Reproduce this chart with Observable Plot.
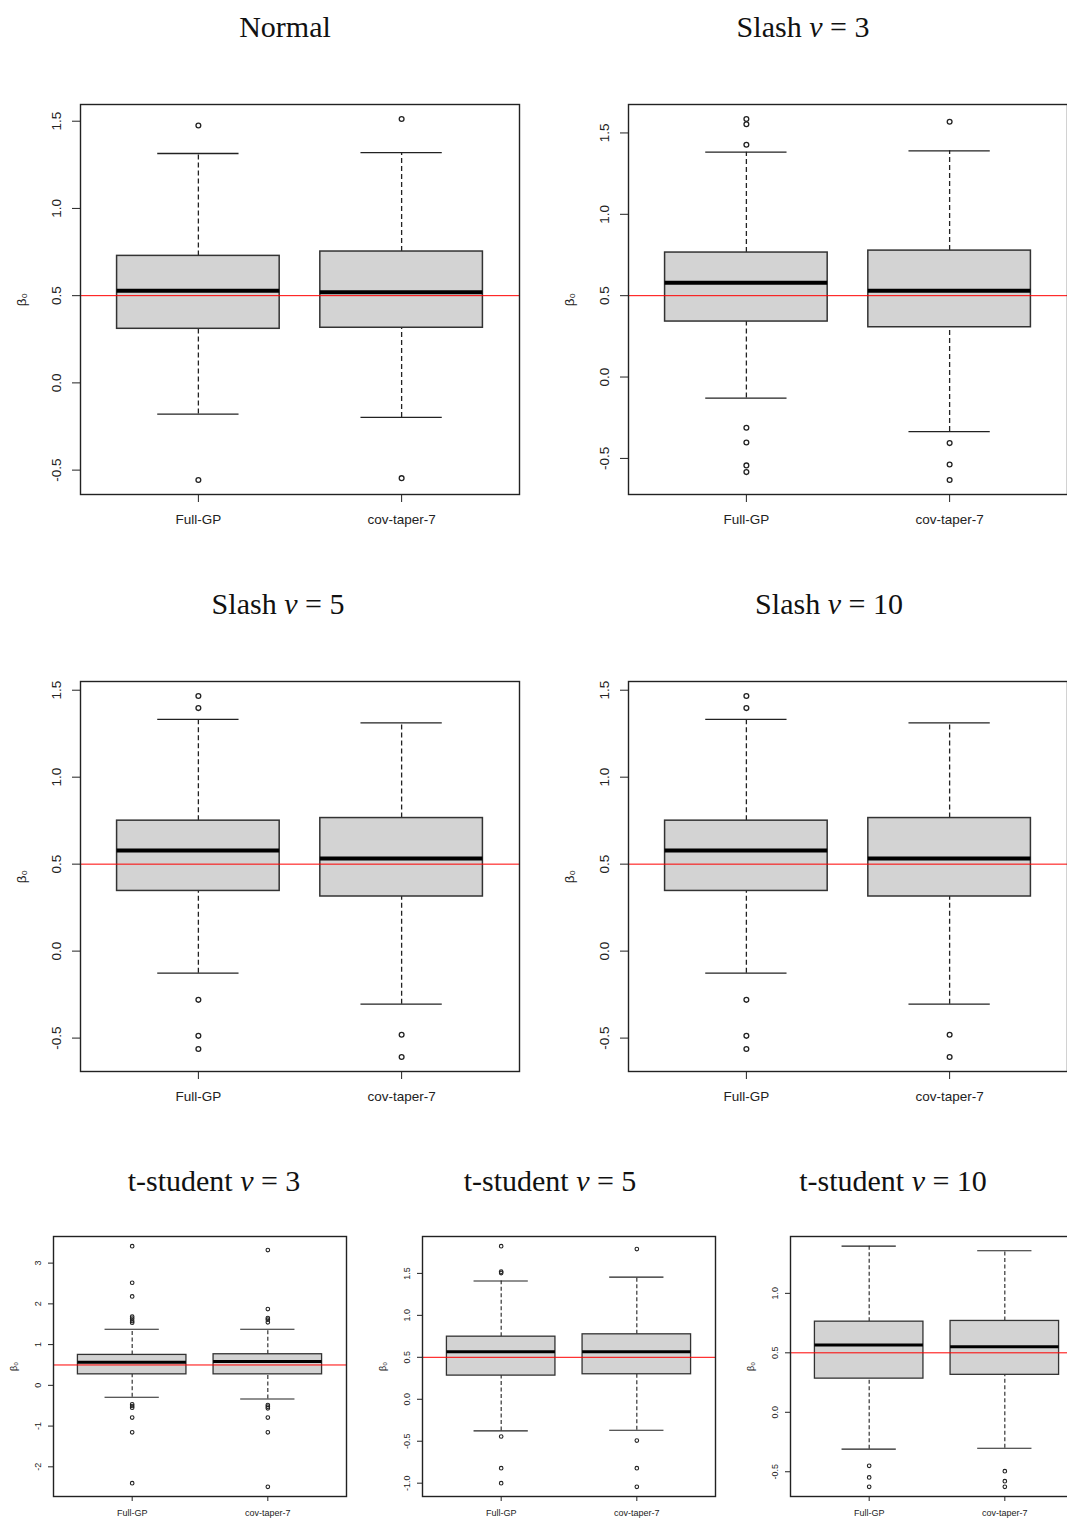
<!DOCTYPE html>
<html>
<head>
<meta charset="utf-8">
<script src="https://cdn.jsdelivr.net/npm/d3@7"></script>
<script src="https://cdn.jsdelivr.net/npm/@observablehq/plot@0.6"></script>
<style>
  html, body { margin: 0; padding: 0; background: #fff; }
  #page { position: relative; width: 1067px; height: 1520px; overflow: hidden; background: #fff; }
  .title { position: absolute; font-family: "Liberation Serif", "DejaVu Serif", serif; font-size: 30px; line-height: 30px; color: #111; white-space: nowrap; transform: translateX(-50%); }
  .title i { font-style: italic; }
  .panel { position: absolute; }
  .panel svg { max-width: none !important; }
</style>
</head>
<body>
<div id="page"></div>
<script>
// ---------------- data ----------------
const methods = ["Full-GP", "cov-taper-7"];
const trueBeta0 = 0.5;

// box statistics: [lower whisker, Q1, median, Q3, upper whisker]
const normalFull  = [-0.179, 0.310, 0.528, 0.728, 1.315];
const normalTaper = [-0.198, 0.316, 0.520, 0.753, 1.320];
const normalFullOut  = [1.475, -0.557];
const normalTaperOut = [1.513, -0.546];

const slash3Full  = [-0.129, 0.341, 0.580, 0.765, 1.382];
const slash3Taper = [-0.335, 0.306, 0.531, 0.777, 1.390];
const slash3FullOut  = [1.586, 1.553, 1.427, -0.312, -0.402, -0.543, -0.584];
const slash3TaperOut = [1.569, -0.406, -0.537, -0.633];

const slash5Full  = [-0.127, 0.346, 0.578, 0.750, 1.332];
const slash5Taper = [-0.305, 0.314, 0.532, 0.765, 1.312];
const slash5FullOut  = [1.467, 1.397, -0.280, -0.487, -0.563];
const slash5TaperOut = [-0.481, -0.609];

const slash10Full  = [-0.127, 0.346, 0.578, 0.750, 1.332];
const slash10Taper = [-0.305, 0.314, 0.532, 0.765, 1.312];
const slash10FullOut  = [1.467, 1.397, -0.280, -0.487, -0.563];
const slash10TaperOut = [-0.481, -0.609];

const t3Full  = [-0.294, 0.270, 0.564, 0.747, 1.376];
const t3Taper = [-0.335, 0.270, 0.588, 0.763, 1.376];
const t3FullOut  = [3.417, 2.518, 2.183, 1.685, 1.636, 1.578, 1.538, -0.466, -0.507, -0.547, -0.792, -1.152, -2.402];
const t3TaperOut = [3.319, 1.873, 1.652, 1.611, 1.546, -0.482, -0.523, -0.564, -0.792, -1.152, -2.492];

const t5Full  = [-0.377, 0.282, 0.567, 0.746, 1.409];
const t5Taper = [-0.369, 0.298, 0.567, 0.774, 1.456];
const t5FullOut  = [1.825, 1.520, 1.504, -0.444, -0.821, -1.000];
const t5TaperOut = [1.790, -0.492, -0.821, -1.044];

const t10Full  = [-0.310, 0.283, 0.566, 0.762, 1.397];
const t10Taper = [-0.302, 0.315, 0.550, 0.768, 1.358];
const t10FullOut  = [-0.450, -0.548, -0.627];
const t10TaperOut = [-0.495, -0.579, -0.627];

// y tick labels
const ticksSlash = [-0.5, 0, 0.5, 1, 1.5];
const ticksT3  = [-2, -1, 0, 1, 2, 3];
const ticksT5  = [-1, -0.5, 0, 0.5, 1, 1.5];
const ticksT10 = [-0.5, 0, 0.5, 1];

// titles
const titleNames = ["Normal", "Slash", "Slash", "Slash", "t-student", "t-student", "t-student"];
const titleNu = [null, 3, 5, 10, 3, 5, 10];

// ---------------- layout (positions & styles only) ----------------
const big = {width: 530, height: 440, mL: 80, mR: 11, mT: 10, mB: 40, font: 13.5, tickSize: 8, tickPad: 12, xPad: 12, labelOffset: 64, median: 4, r: 2.4, sw: 1.3, dash: "5,3"};
const small = {width: 354, height: 294, mL: 53, mR: 8, mT: 10, mB: 24, font: 9, tickSize: 5, tickPad: 8, xPad: 8, labelOffset: 43, median: 3, r: 1.8, sw: 1.1, dash: "4,2.5"};

const panels = [
  {full: normalFull,  taper: normalTaper,  fullOut: normalFullOut,  taperOut: normalTaperOut,  ticks: ticksSlash, fmt: d => d.toFixed(1), L: 0,   T: 94,   s: big},
  {full: slash3Full,  taper: slash3Taper,  fullOut: slash3FullOut,  taperOut: slash3TaperOut,  ticks: ticksSlash, fmt: d => d.toFixed(1), L: 548, T: 94,   s: big},
  {full: slash5Full,  taper: slash5Taper,  fullOut: slash5FullOut,  taperOut: slash5TaperOut,  ticks: ticksSlash, fmt: d => d.toFixed(1), L: 0,   T: 671,  s: big},
  {full: slash10Full, taper: slash10Taper, fullOut: slash10FullOut, taperOut: slash10TaperOut, ticks: ticksSlash, fmt: d => d.toFixed(1), L: 548, T: 671,  s: big},
  {full: t3Full,  taper: t3Taper,  fullOut: t3FullOut,  taperOut: t3TaperOut,  ticks: ticksT3,  fmt: d => String(d),   L: 0,   T: 1226, s: small},
  {full: t5Full,  taper: t5Taper,  fullOut: t5FullOut,  taperOut: t5TaperOut,  ticks: ticksT5,  fmt: d => d.toFixed(1), L: 369, T: 1226, s: small},
  {full: t10Full, taper: t10Taper, fullOut: t10FullOut, taperOut: t10TaperOut, ticks: ticksT10, fmt: d => d.toFixed(1), L: 737, T: 1226, s: small}
];

const titlePos = [
  {cx: 285, top: 12}, {cx: 803, top: 12},
  {cx: 278, top: 589}, {cx: 829, top: 589},
  {cx: 214, top: 1166}, {cx: 550, top: 1166}, {cx: 893, top: 1166}
];

// ---------------- drawing ----------------
const page = document.getElementById("page");

titleNames.forEach((name, i) => {
  const div = document.createElement("div");
  div.className = "title";
  div.style.left = titlePos[i].cx + "px";
  div.style.top = titlePos[i].top + "px";
  if (titleNu[i] == null) div.textContent = name;
  else div.innerHTML = `${name} <i>ν</i> = ${titleNu[i]}`;
  page.appendChild(div);
});

function makePanel(p) {
  const s = p.s;
  const stats = [p.full, p.taper];
  const outs = [p.fullOut, p.taperOut];
  const boxes = stats.map((st, i) => ({pos: i + 1, lo: st[0], q1: st[1], med: st[2], q3: st[3], hi: st[4]}));
  const outliers = outs.flatMap((arr, i) => arr.map(v => ({pos: i + 1, v})));
  const all = stats.flat().concat(outs.flat());
  const lo = d3.min(all), hi = d3.max(all), pad = (hi - lo) * 0.04;
  const half = 0.4, cap = 0.2;
  return Plot.plot({
    width: s.width, height: s.height,
    marginLeft: s.mL, marginRight: s.mR, marginTop: s.mT, marginBottom: s.mB,
    style: {fontSize: s.font + "px", fontFamily: "'Liberation Sans', Arial, sans-serif", color: "#222", background: "transparent", overflow: "visible", maxWidth: "none"},
    x: {domain: [0.5 - 0.08, 2.5 + 0.08], ticks: [1, 2], tickFormat: d => methods[d - 1], tickSize: s.tickSize, tickPadding: s.xPad, label: null},
    y: {domain: [lo - pad, hi + pad], ticks: p.ticks, tickFormat: p.fmt, tickRotate: -90, tickSize: s.tickSize, tickPadding: s.tickPad,
        label: "β₀", labelAnchor: "center", labelOffset: s.labelOffset, labelArrow: "none"},
    marks: [
      Plot.ruleX(boxes, {x: "pos", y1: "q3", y2: "hi", stroke: "#222", strokeWidth: s.sw, strokeDasharray: s.dash}),
      Plot.ruleX(boxes, {x: "pos", y1: "lo", y2: "q1", stroke: "#222", strokeWidth: s.sw, strokeDasharray: s.dash}),
      Plot.ruleY(boxes, {y: "hi", x1: d => d.pos - cap, x2: d => d.pos + cap, stroke: "#222", strokeWidth: s.sw}),
      Plot.ruleY(boxes, {y: "lo", x1: d => d.pos - cap, x2: d => d.pos + cap, stroke: "#222", strokeWidth: s.sw}),
      Plot.rect(boxes, {x1: d => d.pos - half, x2: d => d.pos + half, y1: "q1", y2: "q3", fill: "#d3d3d3", stroke: "#333", strokeWidth: s.sw + 0.2}),
      Plot.ruleY(boxes, {y: "med", x1: d => d.pos - half, x2: d => d.pos + half, stroke: "#000", strokeWidth: s.median}),
      Plot.dot(outliers, {x: "pos", y: "v", r: s.r, stroke: "#222", fill: "none", strokeWidth: s.sw}),
      Plot.ruleY([trueBeta0], {stroke: "#ff0000", strokeWidth: 1}),
      Plot.frame({stroke: "#222", strokeWidth: 1.4})
    ]
  });
}

panels.forEach(p => {
  const wrap = document.createElement("div");
  wrap.className = "panel";
  wrap.style.left = p.L + "px";
  wrap.style.top = p.T + "px";
  wrap.style.width = p.s.width + "px";
  wrap.style.height = p.s.height + "px";
  wrap.appendChild(makePanel(p));
  page.appendChild(wrap);
});
</script>
</body>
</html>
